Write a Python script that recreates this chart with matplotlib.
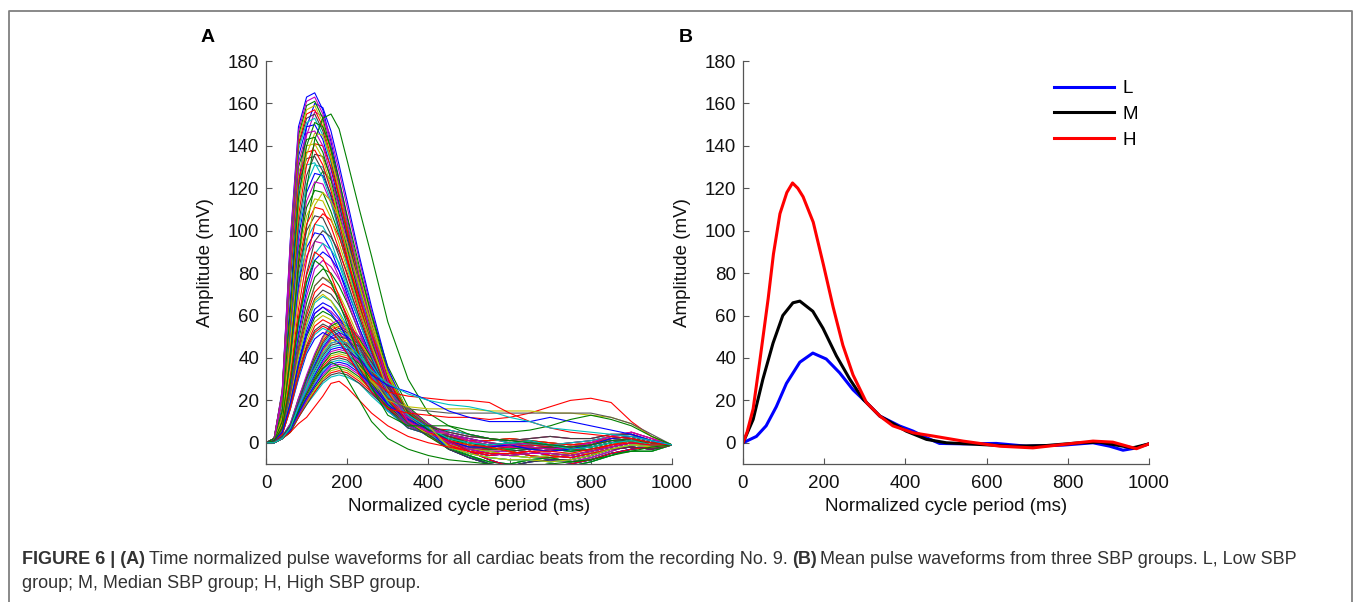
import numpy as np
import matplotlib
matplotlib.use("Agg")
import matplotlib.pyplot as plt
from matplotlib.lines import Line2D

plt.rcParams['font.family'] = ['Liberation Sans', 'DejaVu Sans']

# ---- Panel A: individual beats, sampled on a common grid (ms) ----
grid_ms = [0, 20, 40, 60, 80, 100, 120, 140, 160, 180, 200, 230, 260, 300, 350,
           400, 450, 500, 550, 600, 650, 700, 750, 800, 850, 900, 950, 1000]

# tall, early-peaking beats
beats_high = [
    [0, 2, 25, 96, 149, 163, 165, 157, 142, 124, 106, 79, 56, 30, 12, 4, 2, -1, -3, -3, -2, -3, -4, -3, -1, 1, 0, -1],
    [0, 2, 24, 95, 147, 161, 163, 155, 140, 122, 104, 78, 55, 29, 11, 5, 0, -3, -5, -6, -5, -5, -6, -4, -2, 0, -1, -1],
    [0, 2, 24, 93, 145, 159, 161, 153, 138, 121, 103, 77, 55, 29, 11, 4, 4, 2, 0, -1, 0, -1, -2, -1, 1, 2, 0, -1],
    [0, 2, 24, 92, 143, 157, 159, 151, 137, 119, 102, 76, 54, 29, 11, 3, -2, -5, -7, -8, -8, -9, -8, -6, -3, -1, -2, -1],
    [0, 2, 24, 91, 141, 155, 157, 149, 135, 118, 100, 75, 53, 28, 11, 5, 3, 1, 1, 2, 1, 0, -1, 0, 2, 3, 1, -1],
    [0, 2, 23, 90, 140, 153, 155, 147, 133, 116, 99, 74, 53, 28, 11, 3, -1, -4, -6, -5, -4, -6, -7, -5, -3, -2, -3, -1],
    [0, 2, 23, 89, 138, 151, 153, 145, 132, 115, 98, 73, 52, 28, 11, 4, -2, -6, -10, -12, -11, -10, -11, -9, -6, -3, -2, -1],
    [0, 2, 23, 87, 135, 149, 150, 143, 129, 113, 96, 72, 51, 27, 11, 4, 1, -2, -2, -1, -3, -4, -3, -1, 2, 3, 1, -1],
    [0, 1, 22, 85, 132, 146, 147, 140, 126, 110, 94, 71, 50, 26, 10, 5, 5, 3, 2, 1, 2, 3, 2, 2, 4, 4, 1, -1],
    [0, 1, 22, 84, 130, 143, 144, 137, 124, 108, 92, 69, 49, 26, 10, 3, -3, -6, -9, -10, -8, -7, -9, -8, -5, -4, -4, -1],
    [0, 1, 21, 82, 127, 140, 141, 134, 121, 106, 90, 68, 48, 25, 10, 4, 1, -1, -2, -4, -6, -7, -6, -4, -1, 1, -1, -1],
    [0, 1, 21, 80, 124, 137, 138, 131, 119, 104, 88, 66, 47, 25, 10, 3, -2, -3, -3, -2, -1, -2, -3, -4, -2, 0, -2, -1],
    [0, 1, 20, 78, 122, 134, 135, 128, 116, 101, 86, 65, 46, 24, 9, 4, 3, 0, -2, -4, -3, -2, -3, -2, 0, 2, 0, -1],
    [0, 1, 20, 77, 119, 131, 132, 125, 114, 99, 84, 63, 45, 24, 9, 3, 0, -2, -4, -4, -6, -8, -9, -7, -4, -1, -2, -1],
    [0, 2, 16, 67, 122, 149, 160, 158, 147, 131, 114, 88, 64, 35, 14, 6, 6, 4, 2, 0, -1, -1, 0, 1, 3, 4, 1, -1],
    [0, 2, 16, 66, 119, 145, 156, 154, 144, 128, 111, 86, 62, 34, 14, 5, -3, -7, -10, -11, -9, -8, -8, -6, -3, -2, -3, -1],
    [0, 2, 15, 63, 115, 140, 151, 149, 139, 124, 107, 83, 60, 33, 14, 6, 2, 0, -1, 0, 1, -1, -3, -2, 0, 1, -1, -1],
    [0, 1, 15, 61, 111, 136, 146, 145, 134, 120, 104, 80, 58, 32, 13, 5, -1, -3, -4, -6, -7, -6, -5, -5, -3, -1, -1, -1],
    [0, 1, 14, 59, 107, 131, 141, 140, 130, 116, 100, 78, 56, 31, 13, 6, 4, 1, -1, -2, -2, -3, -2, 0, 3, 5, 2, -1],
    [0, 1, 14, 57, 103, 126, 136, 135, 125, 112, 97, 75, 54, 30, 12, 5, 1, -4, -8, -11, -12, -11, -10, -8, -5, -3, -2, -1],
    [0, 1, 13, 55, 100, 122, 131, 130, 121, 107, 93, 72, 52, 29, 12, 4, 2, -1, -3, -3, -2, -3, -4, -3, -1, 1, 0, -1],
    [0, 1, 13, 53, 97, 118, 127, 126, 117, 104, 90, 70, 51, 28, 11, 5, 4, 2, 0, -1, 0, -1, -2, -1, 1, 2, 0, -1],
    [0, 1, 12, 52, 93, 114, 123, 122, 113, 101, 87, 68, 49, 27, 11, 4, 3, 1, 1, 2, 1, 0, -1, 0, 2, 3, 1, -1],
    [0, 1, 12, 50, 90, 111, 119, 118, 109, 98, 84, 65, 48, 26, 11, 5, -2, -6, -10, -12, -11, -10, -11, -9, -6, -3, -2, -1],
    [0, 1, 12, 48, 87, 107, 115, 114, 106, 94, 82, 63, 46, 25, 10, 4, 5, 3, 2, 1, 2, 3, 2, 2, 4, 4, 1, -1],
    [0, 1, 11, 47, 84, 103, 111, 110, 102, 91, 79, 61, 44, 24, 10, 4, 1, -1, -2, -4, -6, -7, -6, -4, -1, 1, -1, -1],
    [0, 1, 11, 45, 81, 100, 107, 106, 98, 88, 76, 59, 43, 24, 10, 5, 3, 0, -2, -4, -3, -2, -3, -2, 0, 2, 0, -1],
    [0, 1, 10, 43, 78, 96, 103, 102, 95, 84, 73, 57, 41, 23, 9, 4, 6, 4, 2, 0, -1, -1, 0, 1, 3, 4, 1, -1],
    [0, 1, 10, 42, 75, 92, 99, 98, 91, 81, 70, 54, 40, 22, 9, 3, 2, 0, -1, 0, 1, -1, -3, -2, 0, 1, -1, -1],
    [0, 1, 10, 40, 72, 88, 95, 94, 87, 78, 67, 52, 38, 21, 9, 4, 4, 1, -1, -2, -2, -3, -2, 0, 3, 5, 2, -1],
]

# medium beats, peak near 140 ms
beats_mid = [
    [0, 1, 10, 38, 74, 102, 122, 128, 124, 115, 102, 81, 60, 36, 17, 9, 0, -3, -5, -6, -5, -5, -6, -4, -2, 0, -1, -1],
    [0, 1, 9, 35, 68, 94, 112, 118, 114, 106, 94, 74, 55, 33, 15, 8, -2, -5, -7, -8, -8, -9, -8, -6, -3, -1, -2, -1],
    [0, 1, 9, 32, 63, 86, 103, 108, 105, 97, 86, 68, 51, 30, 14, 8, -1, -4, -6, -5, -4, -6, -7, -5, -3, -2, -3, -1],
    [0, 1, 8, 30, 58, 80, 95, 100, 97, 90, 80, 63, 47, 28, 13, 7, 1, -2, -2, -1, -3, -4, -3, -1, 2, 3, 1, -1],
    [0, 1, 8, 28, 55, 75, 89, 94, 91, 85, 75, 59, 44, 26, 12, 7, -3, -6, -9, -10, -8, -7, -9, -8, -5, -4, -4, -1],
    [0, 1, 7, 27, 52, 72, 86, 90, 87, 81, 72, 57, 42, 25, 12, 6, -2, -3, -3, -2, -1, -2, -3, -4, -2, 0, -2, -1],
    [0, 1, 7, 26, 50, 69, 82, 86, 83, 77, 69, 54, 40, 24, 11, 6, 0, -2, -4, -4, -6, -8, -9, -7, -4, -1, -2, -1],
    [0, 1, 7, 25, 48, 66, 78, 82, 80, 74, 66, 52, 39, 23, 11, 6, -3, -7, -10, -11, -9, -8, -8, -6, -3, -2, -3, -1],
    [0, 1, 6, 23, 45, 62, 74, 78, 76, 70, 62, 49, 37, 22, 10, 5, -1, -3, -4, -6, -7, -6, -5, -5, -3, -1, -1, -1],
    [0, 1, 6, 23, 44, 60, 71, 75, 73, 68, 60, 47, 35, 21, 10, 5, 1, -4, -8, -11, -12, -11, -10, -8, -5, -3, -2, -1],
    [0, 1, 6, 22, 42, 58, 68, 72, 70, 65, 58, 45, 34, 20, 9, 5, 0, -3, -5, -6, -5, -5, -6, -4, -2, 0, -1, -1],
    [0, 1, 6, 21, 40, 55, 66, 69, 67, 62, 55, 43, 32, 19, 9, 5, -2, -5, -7, -8, -8, -9, -8, -6, -3, -1, -2, -1],
    [0, 1, 5, 20, 38, 53, 63, 66, 64, 59, 53, 42, 31, 18, 9, 5, -1, -4, -6, -5, -4, -6, -7, -5, -3, -2, -3, -1],
    [0, 1, 5, 19, 37, 51, 61, 64, 62, 58, 51, 40, 30, 18, 8, 4, 1, -2, -2, -1, -3, -4, -3, -1, 2, 3, 1, -1],
    [0, 1, 5, 19, 36, 50, 59, 62, 60, 56, 50, 39, 29, 17, 8, 4, -3, -6, -9, -10, -8, -7, -9, -8, -5, -4, -4, -1],
    [0, 1, 5, 18, 35, 48, 57, 60, 58, 54, 48, 38, 28, 17, 8, 4, -2, -3, -3, -2, -1, -2, -3, -4, -2, 0, -2, -1],
    [0, 1, 5, 17, 34, 46, 55, 58, 56, 52, 46, 37, 27, 16, 8, 4, 0, -2, -4, -4, -6, -8, -9, -7, -4, -1, -2, -1],
    [0, 1, 4, 17, 32, 45, 53, 56, 54, 50, 45, 35, 26, 16, 7, 4, -3, -7, -10, -11, -9, -8, -8, -6, -3, -2, -3, -1],
    [0, 1, 4, 16, 31, 43, 51, 54, 52, 49, 43, 34, 25, 15, 7, 4, -1, -3, -4, -6, -7, -6, -5, -5, -3, -1, -1, -1],
    [0, 1, 4, 16, 30, 42, 49, 52, 50, 47, 42, 33, 24, 15, 7, 4, 1, -4, -8, -11, -12, -11, -10, -8, -5, -3, -2, -1],
]

# small, late-peaking beats
beats_low = [
    [0, 1, 3, 9, 21, 32, 42, 50, 56, 58, 56, 50, 41, 28, 16, 9, 4, 2, 0, -1, 0, -1, -2, -1, 1, 2, 0, -1],
    [0, 1, 3, 9, 21, 31, 41, 50, 55, 57, 55, 49, 40, 27, 16, 9, 2, -1, -3, -3, -2, -3, -4, -3, -1, 1, 0, -1],
    [0, 1, 3, 8, 20, 31, 40, 49, 54, 56, 54, 48, 39, 27, 16, 8, 3, 1, 1, 2, 1, 0, -1, 0, 2, 3, 1, -1],
    [0, 1, 3, 8, 20, 30, 40, 48, 53, 55, 53, 47, 39, 26, 15, 8, 0, -3, -5, -6, -5, -5, -6, -4, -2, 0, -1, -1],
    [0, 1, 3, 8, 19, 30, 39, 47, 52, 54, 52, 46, 38, 26, 15, 8, 5, 3, 2, 1, 2, 3, 2, 2, 4, 4, 1, -1],
    [0, 1, 3, 8, 19, 29, 38, 46, 51, 53, 51, 46, 37, 25, 15, 8, -2, -5, -7, -8, -8, -9, -8, -6, -3, -1, -2, -1],
    [0, 1, 3, 8, 19, 29, 37, 45, 50, 52, 50, 45, 36, 25, 15, 7, 1, -2, -2, -1, -3, -4, -3, -1, 2, 3, 1, -1],
    [0, 1, 3, 8, 18, 28, 37, 44, 49, 51, 49, 44, 36, 24, 14, 8, -1, -4, -6, -5, -4, -6, -7, -5, -3, -2, -3, -1],
    [0, 1, 3, 8, 18, 28, 36, 44, 49, 50, 49, 43, 35, 24, 14, 8, 3, 0, -2, -4, -3, -2, -3, -2, 0, 2, 0, -1],
    [0, 0, 2, 7, 18, 27, 35, 43, 48, 49, 48, 42, 34, 24, 14, 7, -3, -6, -9, -10, -8, -7, -9, -8, -5, -4, -4, -1],
    [0, 0, 2, 7, 17, 26, 35, 42, 47, 48, 47, 41, 34, 23, 13, 7, 6, 4, 2, 0, -1, -1, 0, 1, 3, 4, 1, -1],
    [0, 0, 2, 7, 17, 26, 34, 41, 46, 47, 46, 40, 33, 23, 13, 6, 1, -1, -2, -4, -6, -7, -6, -4, -1, 1, -1, -1],
    [0, 0, 2, 7, 17, 25, 33, 40, 45, 46, 45, 40, 32, 22, 13, 7, 2, 0, -1, 0, 1, -1, -3, -2, 0, 1, -1, -1],
    [0, 0, 2, 7, 16, 25, 32, 39, 44, 45, 44, 39, 32, 22, 13, 6, -3, -7, -10, -11, -9, -8, -8, -6, -3, -2, -3, -1],
    [0, 0, 2, 7, 16, 24, 32, 38, 43, 44, 43, 38, 31, 21, 12, 7, 4, 1, -1, -2, -2, -3, -2, 0, 3, 5, 2, -1],
    [0, 0, 2, 6, 15, 24, 31, 37, 42, 43, 42, 37, 30, 21, 12, 6, -2, -6, -10, -12, -11, -10, -11, -9, -6, -3, -2, -1],
    [0, 0, 2, 6, 15, 23, 30, 37, 41, 42, 41, 36, 29, 20, 12, 6, -2, -3, -3, -2, -1, -2, -3, -4, -2, 0, -2, -1],
    [0, 0, 2, 6, 15, 23, 30, 36, 40, 41, 40, 35, 29, 20, 11, 6, 0, -2, -4, -4, -6, -8, -9, -7, -4, -1, -2, -1],
    [0, 0, 2, 6, 14, 22, 29, 35, 39, 40, 39, 34, 28, 19, 11, 6, 3, 1, 1, 2, 1, 0, -1, 0, 2, 3, 1, -1],
    [0, 0, 2, 6, 14, 21, 28, 34, 38, 39, 38, 34, 27, 19, 11, 5, -1, -3, -4, -6, -7, -6, -5, -5, -3, -1, -1, -1],
    [0, 0, 2, 6, 14, 21, 27, 33, 37, 38, 37, 33, 27, 18, 11, 6, 1, -4, -8, -11, -12, -11, -10, -8, -5, -3, -2, -1],
    [0, 0, 2, 6, 13, 20, 27, 32, 36, 37, 36, 32, 26, 18, 10, 5, 4, 2, 0, -1, 0, -1, -2, -1, 1, 2, 0, -1],
    [0, 0, 2, 5, 13, 20, 26, 31, 35, 36, 35, 31, 25, 17, 10, 5, 2, -1, -3, -3, -2, -3, -4, -3, -1, 1, 0, -1],
    [0, 0, 2, 5, 13, 19, 25, 30, 34, 35, 34, 30, 25, 17, 10, 5, 1, -2, -2, -1, -3, -4, -3, -1, 2, 3, 1, -1],
    [0, 0, 2, 5, 12, 19, 24, 30, 33, 34, 33, 29, 24, 16, 10, 5, 0, -3, -5, -6, -5, -5, -6, -4, -2, 0, -1, -1],
    [0, 0, 2, 5, 12, 18, 24, 29, 32, 33, 32, 28, 23, 16, 9, 4, -1, -4, -6, -5, -4, -6, -7, -5, -3, -2, -3, -1],
    [0, 0, 2, 5, 12, 18, 23, 28, 31, 32, 31, 28, 22, 15, 9, 4, -2, -5, -7, -8, -8, -9, -8, -6, -3, -1, -2, -1],
]

# beats that stand out from the bundle, with the colour they have in the figure
beats_odd = [
    [0, 1, 10, 40, 85, 120, 143, 153, 155, 148, 133, 110, 88, 57, 30, 14, 8, 4, 2, 1, 0, -1, -2, -1, 1, 2, 0, -1],
    [0, 0, 2, 5, 9, 12, 17, 22, 28, 29, 26, 20, 14, 8, 3, 0, -2, -4, -5, -5, -4, -4, -5, -3, -1, 0, -1, -1],
    [0, 0, 2, 7, 15, 23, 30, 35, 38, 36, 30, 20, 10, 2, -3, -6, -8, -9, -10, -11, -11, -10, -9, -8, -6, -4, -2, -1],
    [0, 1, 4, 16, 32, 44, 52, 55, 53, 48, 42, 32, 24, 16, 14, 13, 12, 12, 11, 12, 14, 17, 20, 21, 19, 10, 3, -1],
    [0, 1, 6, 21, 41, 56, 67, 70, 67, 61, 53, 41, 30, 20, 17, 16, 16, 16, 15, 15, 15, 14, 14, 13, 12, 9, 3, -1],
    [0, 1, 6, 23, 45, 62, 74, 78, 75, 68, 59, 45, 33, 21, 16, 15, 14, 14, 14, 14, 14, 14, 14, 14, 12, 9, 4, -1],
    [0, 1, 7, 30, 59, 79, 90, 87, 79, 69, 59, 41, 30, 24, 22, 21, 20, 20, 19, 14, 10, 7, 5, 4, 3, 2, 0, -1],
    [0, 1, 5, 19, 37, 51, 61, 64, 61, 56, 49, 40, 32, 27, 24, 20, 15, 12, 10, 10, 10, 12, 10, 8, 6, 4, 1, -1],
    [0, 1, 7, 28, 57, 76, 86, 83, 76, 66, 56, 40, 26, 13, 8, 8, 8, 6, 5, 5, 6, 8, 11, 13, 11, 8, 3, -1],
    [0, 0, 2, 7, 17, 26, 35, 42, 47, 48, 47, 41, 34, 28, 23, 20, 18, 17, 15, 12, 10, 7, 6, 5, 4, 3, 1, -1],
]
odd_colors = ['green', 'red', 'green', 'red', 'yellow', 'gray', 'red', 'blue', 'green', 'cyan']

# ---- Panel B: mean waveforms of the three SBP groups ----
low_x = [0, 33, 57, 82, 107, 140, 172, 205, 238, 271, 304, 337, 386, 419, 452,
         484, 542, 624, 698, 788, 862, 903, 936, 969, 1000]
low_y = [0, 3, 8, 17, 28, 38, 42.3, 39.5, 33, 25, 19, 12.6, 7.9, 5.5, 2.4,
         -0.3, -0.5, -0.3, -1.6, -1.1, 0, -1.6, -3.5, -2.4, -0.5]

mid_x = [0, 25, 49, 74, 98, 123, 140, 172, 197, 230, 263, 296, 337, 402, 452,
         501, 583, 665, 747, 829, 878, 911, 960, 1000]
mid_y = [0, 11, 30, 47, 60, 66, 66.8, 62, 54, 41, 30, 20.5, 12.6, 5.5, 1.6,
         0, -0.8, -1.6, -1.3, 0, 0.3, -0.8, -2.4, -0.5]

high_x = [0, 10, 25, 41, 55, 62, 75, 91, 108, 122, 135, 148, 173, 198, 222,
          246, 271, 304, 337, 369, 419, 468, 542, 632, 714, 788, 862, 911, 969, 1000]
high_y = [0, 5, 16, 38, 58, 68, 89, 108, 118, 122.5, 120, 116, 104, 84, 64,
          46, 32, 19, 12.6, 8, 4.7, 3.2, 0.8, -1.6, -2.4, -0.8, 0.8, 0.3, -2.8, -0.5]

group_labels = ['L', 'M', 'H']

x_ticks = [0, 200, 400, 600, 800, 1000]
y_ticks = [0, 20, 40, 60, 80, 100, 120, 140, 160, 180]

# MATLAB's old default line colour order
matlab_colors = [(0, 0, 1), (0, 0.5, 0), (1, 0, 0), (0, 0.75, 0.75),
                 (0.75, 0, 0.75), (0.75, 0.75, 0), (0.25, 0.25, 0.25)]
odd_map = {'green': (0, 0.5, 0), 'red': (1, 0, 0), 'yellow': (0.75, 0.75, 0),
           'gray': (0.35, 0.35, 0.35), 'blue': (0, 0, 1), 'cyan': (0, 0.75, 0.75)}

W, H = 1357, 602
fig = plt.figure(figsize=(W / 100, H / 100), dpi=100)


def px_axes(left, top, right, bottom):
    return fig.add_axes([left / W, 1 - bottom / H, (right - left) / W, (bottom - top) / H])


def style(ax):
    ax.set_xlim(0, 1000)
    ax.set_ylim(-10, 180)
    ax.set_xticks(x_ticks)
    ax.set_yticks(y_ticks)
    for s in ('top', 'right'):
        ax.spines[s].set_visible(False)
    for s in ('left', 'bottom'):
        ax.spines[s].set_color('#555555')
        ax.spines[s].set_linewidth(0.9)
        ax.spines[s].set_zorder(5)
    ax.tick_params(direction='in', length=4, width=0.8, color='#555555',
                   labelsize=13.5, labelcolor='#111111')
    ax.tick_params(axis='x', pad=8)
    ax.tick_params(axis='y', pad=5)
    ax.set_xlabel('Normalized cycle period (ms)', fontsize=13.5, color='#111111')
    ax.set_ylabel('Amplitude (mV)', fontsize=13.5, color='#111111')
    ax.xaxis.set_label_coords(0.5, -0.085)
    ax.yaxis.set_label_coords(-0.128, 0.5)


axA = px_axes(266, 61, 672, 464)
regular = beats_high + beats_mid + beats_low
n = len(regular)
# beats were recorded in time order, not by size: mix them before drawing
order = [(i * 23) % n for i in range(n)]
for k, idx in enumerate(order):
    axA.plot(grid_ms, regular[idx], color=matlab_colors[k % 7], lw=0.8)
for beat, c in zip(beats_odd, odd_colors):
    axA.plot(grid_ms, beat, color=odd_map[c], lw=0.8)
style(axA)

axB = px_axes(743, 61, 1149, 464)
axB.plot(low_x, low_y, color=(0, 0, 1), lw=2.2, label=group_labels[0])
axB.plot(mid_x, mid_y, color='black', lw=2.2, label=group_labels[1])
axB.plot(high_x, high_y, color=(1, 0, 0), lw=2.2, label=group_labels[2])
style(axB)
axB.legend(loc='upper left', bbox_to_anchor=(0.766, 0.952), frameon=False,
           fontsize=13.5, handlelength=3.2, handletextpad=0.45,
           labelspacing=0.45, borderpad=0, borderaxespad=0)

fig.text(201 / W, 1 - 38 / H, 'A', fontsize=14, fontweight='bold',
         ha='left', va='center')
fig.text(679 / W, 1 - 38 / H, 'B', fontsize=14, fontweight='bold',
         ha='left', va='center')

# outer frame (open at bottom)
frame = Line2D([8.5 / W, 8.5 / W, 1351.5 / W, 1351.5 / W],
               [0, 1 - 10.5 / H, 1 - 10.5 / H, 0],
               transform=fig.transFigure, color='#808080', lw=1.3)
fig.add_artist(frame)

# caption
cap_color = '#333333'
cap_size = 13
y1 = 1 - 560 / H
y2 = 1 - 583 / H
t = fig.text(22 / W, y1, 'FIGURE 6 | (A)', fontsize=cap_size, fontweight='bold',
             color=cap_color, va='center')
fig.canvas.draw()
r = fig.canvas.get_renderer()
bb = t.get_window_extent(r)
t2 = fig.text(bb.x1 / W + 4 / W, y1,
              'Time normalized pulse waveforms for all cardiac beats from the recording No. 9.',
              fontsize=cap_size, color=cap_color, va='center')
bb = t2.get_window_extent(r)
t3 = fig.text(bb.x1 / W + 4 / W, y1, '(B)', fontsize=cap_size, fontweight='bold',
              color=cap_color, va='center')
bb = t3.get_window_extent(r)
fig.text(bb.x1 / W + 4 / W, y1, 'Mean pulse waveforms from three SBP groups. L, Low SBP',
         fontsize=cap_size, color=cap_color, va='center')
fig.text(22 / W, y2, 'group; M, Median SBP group; H, High SBP group.',
         fontsize=cap_size, color=cap_color, va='center')

fig.savefig('out.png', dpi=100)
